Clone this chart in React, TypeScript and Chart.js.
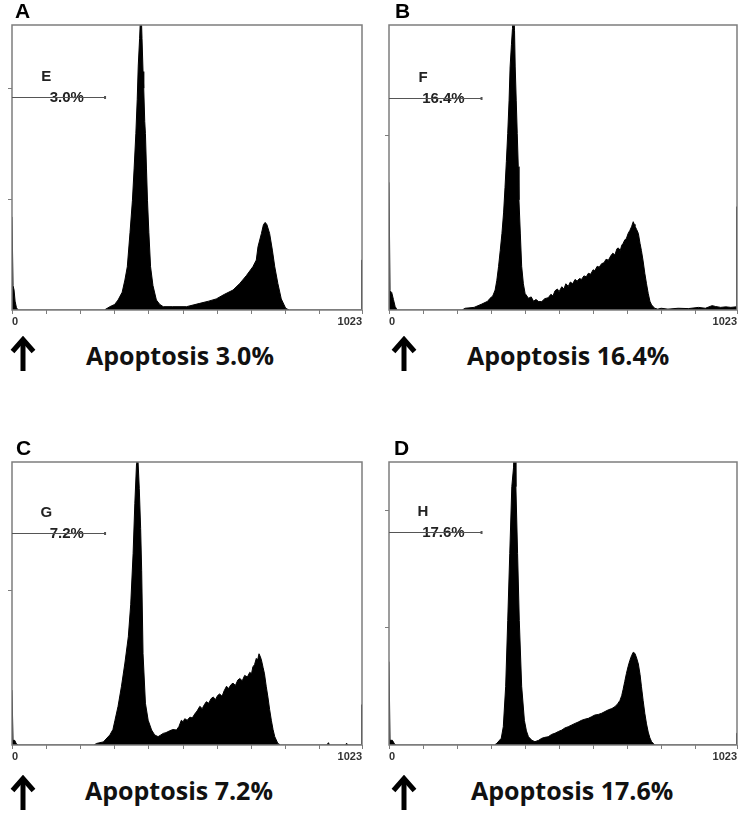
import React, { useEffect, useRef } from 'react';
import { Chart, registerables } from 'chart.js';

Chart.register(...registerables);

// ---------- shared axis values ----------
const xTickValues = [0, 100, 200, 300, 400, 500, 600, 700, 800, 900, 1023];
const xTickLabels = ['0', '', '', '', '', '', '', '', '', '', '1023'];

// ---------- panel A (E 3.0%) ----------
const aChannels = [0, 2, 3, 6, 9, 13, 18, 270, 286, 300, 310, 322, 330, 337, 345, 352, 357, 362, 366, 369, 373, 377, 380, 383, 385, 388, 390, 393, 396, 400, 405, 412, 422, 432, 442, 470, 510, 549, 575, 597, 620, 646, 666, 685, 704, 714, 719, 729, 735, 740, 745, 753, 761, 768, 777, 787, 800, 810, 1020, 1021, 1022, 1023];
const aCounts = [84, 84, 22, 18, 8, 2, 0, 0, 3, 5, 9, 16, 27, 39, 70, 99, 128, 159, 190, 220, 245, 275, 245, 215, 200, 170, 159, 128, 99, 70, 39, 22, 9, 5, 3, 3, 3, 6, 8, 10, 14, 18, 24, 31, 39, 45, 57, 69, 77, 79, 77, 69, 54, 39, 24, 10, 1.5, 0, 0, 0, 45, 45];
const aYMax = 257;
const aYTicks = [100, 200];

// ---------- panel B (F 16.4%) ----------
const bChannels = [0, 2, 3, 8, 13, 18, 24, 215, 224, 250, 273, 290, 297, 305, 312, 317, 322, 327, 332, 337, 341, 345, 349, 353, 356, 360, 363, 366, 369, 371, 374, 377, 380, 382, 386, 390, 395, 400, 410, 418, 425, 432, 440, 449, 458, 468, 476, 482, 488, 495, 500, 508, 514, 520, 527, 533, 540, 547, 553, 560, 566, 573, 580, 586, 593, 600, 605, 612, 618, 625, 632, 638, 645, 652, 658, 664, 670, 674, 680, 684, 688, 693, 698, 703, 708, 713, 718, 721, 723, 728, 733, 738, 742, 747, 752, 757, 762, 767, 772, 781, 790, 800, 820, 850, 880, 910, 930, 950, 960, 975, 990, 1005, 1020, 1021, 1022, 1023];
const bCounts = [73, 73, 11, 10, 6, 2, 0, 0, 1, 1.5, 3.4, 5, 6.7, 8, 11.4, 17, 24.8, 34, 43.8, 56, 70, 85, 101, 120, 139, 152, 161, 175, 160, 139, 120, 101, 82, 63, 44, 25, 15, 9.5, 6.7, 7.5, 5, 6, 4.8, 4.8, 6.5, 7, 9, 8, 11, 12, 10.5, 13.3, 12, 15, 13.5, 16, 15, 17.5, 16.5, 18, 17.5, 19.5, 19, 21, 20.5, 23, 22.5, 25, 24.5, 26.5, 27, 29, 28.5, 31, 32.5, 31.5, 35, 35.5, 34, 37, 38, 40, 41, 43.8, 45.5, 47.6, 50.5, 49, 48, 46, 43.8, 38, 34, 28, 21, 15, 9.5, 5, 2.9, 1, 0.5, 1, 0.5, 1, 0.8, 1.5, 1, 2.5, 2, 1.5, 1.8, 1.5, 1.8, 1.8, 59, 59];
const bYMax = 163;
const bYTicks = [100];

// ---------- panel C (G 7.2%) ----------
const cChannels = [0, 2, 3, 8, 12, 18, 240, 247, 267, 286, 295, 301, 310, 320, 330, 340, 347, 354, 359, 364, 366, 368, 372, 376, 379, 383, 390, 398, 408, 417, 427, 435, 442, 450, 461, 470, 481, 488, 495, 500, 505, 512, 520, 527, 534, 541, 549, 556, 562, 568, 575, 582, 588, 595, 601, 607, 614, 620, 627, 633, 640, 646, 653, 660, 666, 673, 680, 688, 695, 700, 704, 709, 714, 718, 722, 726, 729, 734, 738, 743, 748, 753, 758, 763, 768, 777, 785, 920, 925, 928, 975, 978, 981, 1020, 1021, 1022, 1023];
const cCounts = [35.5, 35.5, 3, 3, 1, 0, 0, 1, 2, 6.5, 10, 16, 25, 38, 53, 70, 91, 124, 156, 182, 195, 195, 166, 140, 113, 59, 27, 16, 9.7, 6.5, 5.4, 6.5, 7.5, 8, 9.2, 10, 9.7, 12, 16, 15, 17, 16, 18, 17.5, 20, 22, 25, 23.5, 26, 28, 27, 30, 31, 29.5, 32, 33, 31.5, 35, 38, 36.5, 39, 40, 38.5, 42, 43, 41.5, 45, 44, 47, 46, 50.5, 52, 56, 55, 59, 57, 55, 50, 46, 38, 31, 23, 16, 10, 5.4, 1, 0, 0, 1.5, 0, 0, 1.2, 0, 0, 0, 26, 26];
const cYMax = 183;
const cYTicks = [100];

// ---------- panel D (H 17.6%) ----------
const dChannels = [0, 2, 3, 10, 15, 20, 310, 317, 330, 336, 343, 349, 355, 361, 366, 369, 371, 373, 378, 383, 390, 398, 404, 410, 420, 429, 440, 449, 458, 468, 478, 488, 498, 508, 517, 527, 537, 547, 556, 566, 576, 586, 595, 605, 615, 625, 635, 645, 655, 664, 672, 679, 684, 688, 693, 698, 703, 708, 713, 718, 723, 728, 733, 738, 742, 747, 752, 757, 762, 767, 772, 781, 1020, 1021, 1022, 1023];
const dCounts = [71, 71, 4, 4, 1.5, 0, 0, 1.4, 5.7, 15.6, 50, 106, 163, 220, 236, 260, 250, 220, 163, 106, 50, 21, 12, 7, 4, 2.8, 4, 5.7, 6.5, 7, 9, 10, 11.5, 12.7, 14.5, 15.6, 17, 18.4, 19.5, 21, 22, 22.7, 24, 25.5, 26, 27, 28.5, 30, 31, 32.6, 35, 38, 42, 47, 54, 61, 67, 72, 76, 79, 78, 74, 69, 60, 50, 38, 27, 18, 11, 6, 2.8, 0, 0, 0, 10, 10];
const dYMax = 241;
const dYTicks = [100, 200];

// ---------- gate markers ----------
const gateLetters = ['E', 'F', 'G', 'H'];
const gatePercents = ['3.0%', '16.4%', '7.2%', '17.6%'];
const gateLevels = [192, 121, 137, 181];
const gateEnd = 272;

// ---------- captions ----------
const panelLetters = ['A', 'B', 'C', 'D'];
const captions = ['Apoptosis 3.0%', 'Apoptosis 16.4%', 'Apoptosis 7.2%', 'Apoptosis 17.6%'];

type Box = { left: number; top: number; right: number; bottom: number };

const framePlugin = {
  id: 'frame',
  afterDatasetsDraw(chart: any) {
    const { ctx, chartArea } = chart;
    const { left, top, right, bottom } = chartArea;
    ctx.save();
    ctx.strokeStyle = '#7d7d7d';
    ctx.lineWidth = 1.5;
    ctx.strokeRect(left, top, right - left, bottom - top);
    ctx.restore();
  },
};

function makeGatePlugin(letter: string, pct: string, level: number) {
  return {
    id: 'gate',
    afterDatasetsDraw(chart: any) {
      const { ctx } = chart;
      const xs = chart.scales.x;
      const ys = chart.scales.y;
      const x0 = xs.getPixelForValue(0);
      const x1 = xs.getPixelForValue(gateEnd);
      const y = Math.round(ys.getPixelForValue(level)) + 0.5;
      ctx.save();
      ctx.fillStyle = '#222';
      ctx.font = 'bold 15px "Liberation Sans", Arial, sans-serif';
      ctx.textAlign = 'center';
      ctx.textBaseline = 'alphabetic';
      ctx.fillText(letter, xs.getPixelForValue(100), y - 17);
      ctx.fillText(pct, xs.getPixelForValue(160), y + 4);
      ctx.strokeStyle = '#555';
      ctx.lineWidth = 1;
      ctx.beginPath();
      ctx.moveTo(x0, y);
      ctx.lineTo(x1, y);
      ctx.stroke();
      ctx.fillStyle = '#555';
      ctx.fillRect(x1 - 1, y - 1.5, 2, 3);
      ctx.restore();
    },
  };
}

function Panel(props: {
  box: Box;
  channels: number[];
  counts: number[];
  yMax: number;
  yTicks: number[];
  index: number;
}) {
  const { box, channels, counts, yMax, yTicks, index } = props;
  const ref = useRef<HTMLCanvasElement>(null);
  const padL = 14;
  const padR = 10;
  const padT = 25;
  const axisH = 20;
  const w = box.right - box.left + padL + padR;
  const h = box.bottom - box.top + padT + axisH;

  useEffect(() => {
    const data = channels.map((c, i) => ({ x: c, y: counts[i] }));
    const chart = new Chart(ref.current as HTMLCanvasElement, {
      type: 'line',
      data: {
        datasets: [
          {
            data,
            borderColor: '#000',
            backgroundColor: '#000',
            borderWidth: 1,
            fill: 'origin',
            pointRadius: 0,
            tension: 0,
          },
        ],
      },
      options: {
        animation: false,
        responsive: false,
        events: [],
        layout: { padding: { left: padL, right: padR, top: padT, bottom: 0 } },
        plugins: { legend: { display: false }, tooltip: { enabled: false } },
        scales: {
          x: {
            type: 'linear',
            min: 0,
            max: 1023,
            afterBuildTicks: (s: any) => {
              s.ticks = xTickValues.map((v) => ({ value: v }));
            },
            afterFit: (s: any) => {
              s.height = axisH;
            },
            grid: { drawOnChartArea: false, drawTicks: true, tickLength: 4, color: '#7d7d7d', lineWidth: 1 },
            border: { display: false },
            ticks: {
              autoSkip: false,
              maxRotation: 0,
              minRotation: 0,
              align: 'inner',
              padding: 1,
              color: '#333',
              font: { family: '"Liberation Sans", Arial, sans-serif', size: 11, weight: 'bold' },
              callback: (v: any) => {
                const i = xTickValues.indexOf(Number(v));
                return i >= 0 ? xTickLabels[i] : '';
              },
            },
          },
          y: {
            type: 'linear',
            min: 0,
            max: yMax,
            afterBuildTicks: (s: any) => {
              s.ticks = yTicks.map((v) => ({ value: v }));
            },
            afterFit: (s: any) => {
              s.width = 0;
            },
            grid: { drawOnChartArea: false, drawTicks: true, tickLength: 4, color: '#7d7d7d', lineWidth: 1 },
            border: { display: false },
            ticks: { display: false },
          },
        },
      } as any,
      plugins: [framePlugin, makeGatePlugin(gateLetters[index], gatePercents[index], gateLevels[index])],
    });
    return () => chart.destroy();
  }, []);

  return (
    <canvas
      ref={ref}
      width={w}
      height={h}
      style={{ position: 'absolute', left: box.left - padL, top: box.top - padT, width: w, height: h }}
    />
  );
}

function Arrow({ left, top }: { left: number; top: number }) {
  return (
    <svg
      width={26}
      height={35}
      viewBox="0 0 26 35"
      style={{ position: 'absolute', left, top }}
    >
      <path d="M13 4 L13 35" stroke="#000" strokeWidth={5} fill="none" />
      <path d="M2.5 15.5 L13 3.5 L23.5 15.5" stroke="#000" strokeWidth={5} fill="none" strokeLinejoin="miter" />
    </svg>
  );
}

const letterStyle: React.CSSProperties = {
  position: 'absolute',
  fontFamily: '"Liberation Sans", Arial, sans-serif',
  fontWeight: 'bold',
  fontSize: 21,
  lineHeight: '21px',
  color: '#000',
};

const captionStyle: React.CSSProperties = {
  position: 'absolute',
  fontFamily: '"Open Sans", "Liberation Sans", Arial, sans-serif',
  fontWeight: 'bold',
  fontSize: 25,
  lineHeight: '25px',
  color: '#111',
  whiteSpace: 'nowrap',
};

export default function App() {
  const boxes: Box[] = [
    { left: 12, top: 25, right: 362, bottom: 310 },
    { left: 389, top: 25, right: 737, bottom: 310 },
    { left: 12, top: 462, right: 362, bottom: 745 },
    { left: 389, top: 462, right: 737, bottom: 745 },
  ];
  const channelsList = [aChannels, bChannels, cChannels, dChannels];
  const countsList = [aCounts, bCounts, cCounts, dCounts];
  const yMaxList = [aYMax, bYMax, cYMax, dYMax];
  const yTicksList = [aYTicks, bYTicks, cYTicks, dYTicks];
  const letterPos = [
    { left: 15, top: 0 },
    { left: 395, top: 0 },
    { left: 16, top: 437 },
    { left: 394, top: 437 },
  ];
  const captionPos = [
    { left: 86, top: 343 },
    { left: 467, top: 343 },
    { left: 85, top: 778 },
    { left: 471, top: 778 },
  ];
  const arrowPos = [
    { left: 10, top: 336 },
    { left: 391, top: 336 },
    { left: 10, top: 775 },
    { left: 391, top: 775 },
  ];

  return (
    <div
      style={{
        position: 'absolute',
        left: 0,
        top: 0,
        width: 745,
        height: 819,
        background: '#fff',
        overflow: 'hidden',
      }}
    >
      {boxes.map((b, i) => (
        <Panel
          key={i}
          box={b}
          channels={channelsList[i]}
          counts={countsList[i]}
          yMax={yMaxList[i]}
          yTicks={yTicksList[i]}
          index={i}
        />
      ))}
      {panelLetters.map((l, i) => (
        <div key={'l' + i} style={{ ...letterStyle, ...letterPos[i] }}>
          {l}
        </div>
      ))}
      {captions.map((c, i) => (
        <div key={'c' + i} style={{ ...captionStyle, ...captionPos[i] }}>
          {c}
        </div>
      ))}
      {arrowPos.map((p, i) => (
        <Arrow key={'a' + i} left={p.left} top={p.top} />
      ))}
    </div>
  );
}
